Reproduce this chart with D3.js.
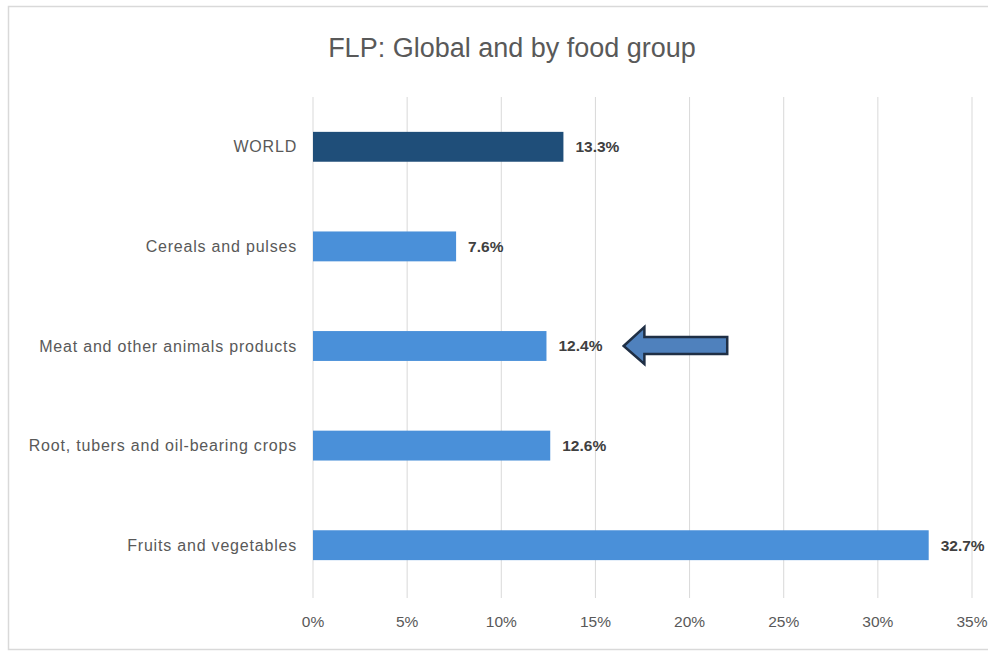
<!DOCTYPE html>
<html><head><meta charset="utf-8">
<script src="https://cdn.jsdelivr.net/npm/d3@7"></script>
<style>body{margin:0;background:#fff;}svg{display:block;}</style>
</head><body>
<script>
const categories = ["WORLD","Cereals and pulses","Meat and other animals products","Root, tubers and oil-bearing crops","Fruits and vegetables"];
const values = [13.3, 7.6, 12.4, 12.6, 32.7];
const labels = ["13.3%","7.6%","12.4%","12.6%","32.7%"];
const ticks = [0,5,10,15,20,25,30,35];
const tickLabels = ["0%","5%","10%","15%","20%","25%","30%","35%"];
const title = "FLP: Global and by food group";

const W=988,H=653;
const svg=d3.select("body").append("svg").attr("width",W).attr("height",H);
svg.append("rect").attr("x",8.5).attr("y",6.5).attr("width",990).attr("height",643).attr("fill","#fff").attr("stroke","#d9d9d9").attr("stroke-width",1.5);

const x=d3.scaleLinear().domain([0,35]).range([313,972]);
const y=d3.scaleBand().domain(categories).range([97,595]).paddingInner(0.7).paddingOuter(0.35);

const font="'Liberation Sans', Arial, sans-serif";
svg.append("g").selectAll("line").data(ticks).join("line")
  .attr("x1",d=>x(d)).attr("x2",d=>x(d)).attr("y1",97).attr("y2",598)
  .attr("stroke","#d9d9d9").attr("stroke-width",1);

svg.append("g").selectAll("rect").data(values).join("rect")
  .attr("x",x(0)).attr("y",(d,i)=>y(categories[i]))
  .attr("width",d=>x(d)-x(0)).attr("height",y.bandwidth())
  .attr("fill",(d,i)=>i===0?"#1f4e79":"#4a90d9");

svg.append("g").selectAll("text").data(values).join("text")
  .attr("x",d=>x(d)+12).attr("y",(d,i)=>y(categories[i])+y.bandwidth()/2)
  .attr("dy","0.35em").attr("font-family",font).attr("font-size",15.5).attr("font-weight","bold")
  .attr("fill","#404040").text((d,i)=>labels[i]);

svg.append("g").selectAll("text").data(categories).join("text")
  .attr("x",297).attr("y",d=>y(d)+y.bandwidth()/2).attr("dy","0.35em")
  .attr("text-anchor","end").attr("font-family",font).attr("font-size",16)
  .attr("letter-spacing",0.8)
  .attr("fill","#595959").text(d=>d);

svg.append("g").selectAll("text").data(ticks).join("text")
  .attr("x",d=>x(d)).attr("y",627).attr("text-anchor","middle")
  .attr("font-family",font).attr("font-size",15.5).attr("fill","#595959")
  .text((d,i)=>tickLabels[i]);

svg.append("text").attr("x",512).attr("y",57).attr("text-anchor","middle")
  .attr("font-family",font).attr("font-size",27).attr("fill","#595959").text(title);

// arrow pointing to Meat label
const ay=y(categories[2])+y.bandwidth()/2;
const tip=x(16.5), base=x(17.6), tail=x(22.0);
svg.append("path")
  .attr("d",`M${tip},${ay} L${base},${ay-19} L${base},${ay-9} L${tail},${ay-9} L${tail},${ay+8} L${base},${ay+8} L${base},${ay+18} Z`)
  .attr("fill","#4f81bd").attr("stroke","#1f2f45").attr("stroke-width",2.5).attr("stroke-linejoin","miter");
</script>
</body></html>
